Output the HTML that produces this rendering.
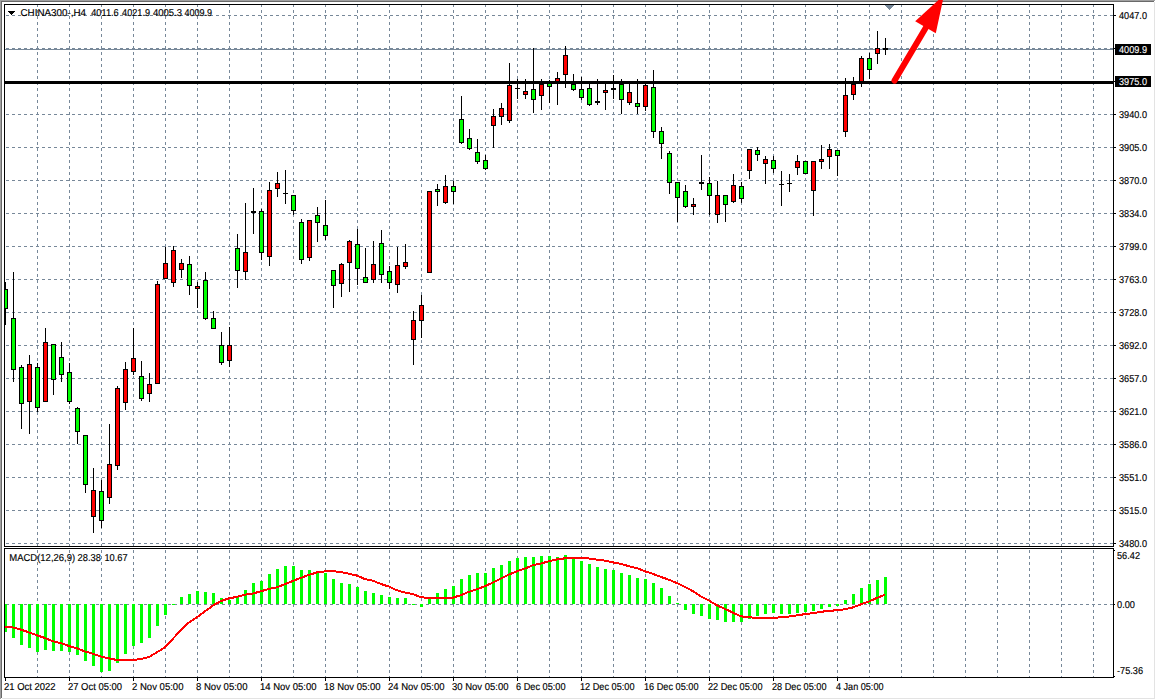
<!DOCTYPE html>
<html><head><meta charset="utf-8"><title>CHINA300-,H4</title>
<style>
html,body{margin:0;padding:0;background:#fff;width:1156px;height:700px;overflow:hidden}
svg{display:block}
text{font-family:'Liberation Sans', Arial, sans-serif;text-rendering:geometricPrecision;stroke:currentColor;stroke-width:0.15px}
</style></head>
<body>
<svg width="1156" height="700" viewBox="0 0 1156 700">
<rect width="1156" height="700" fill="#fff"/>
<g shape-rendering="crispEdges">
<path d="M6 15.5H1113M6 48.5H1113M6 81.5H1113M6 114.5H1113M6 147.5H1113M6 180.5H1113M6 213.5H1113M6 246.5H1113M6 279.5H1113M6 312.5H1113M6 345.5H1113M6 378.5H1113M6 411.5H1113M6 444.5H1113M6 477.5H1113M6 510.5H1113M6 543.5H1113M6 604.5H1113" stroke="#778899" stroke-width="1" stroke-dasharray="3 3" fill="none"/>
<path d="M37.5 4V546M37.5 550V677M69.5 4V546M69.5 550V677M101.5 4V546M101.5 550V677M133.5 4V546M133.5 550V677M165.5 4V546M165.5 550V677M197.5 4V546M197.5 550V677M229.5 4V546M229.5 550V677M261.5 4V546M261.5 550V677M293.5 4V546M293.5 550V677M325.5 4V546M325.5 550V677M357.5 4V546M357.5 550V677M389.5 4V546M389.5 550V677M421.5 4V546M421.5 550V677M453.5 4V546M453.5 550V677M485.5 4V546M485.5 550V677M517.5 4V546M517.5 550V677M549.5 4V546M549.5 550V677M581.5 4V546M581.5 550V677M613.5 4V546M613.5 550V677M645.5 4V546M645.5 550V677M677.5 4V546M677.5 550V677M709.5 4V546M709.5 550V677M741.5 4V546M741.5 550V677M773.5 4V546M773.5 550V677M805.5 4V546M805.5 550V677M837.5 4V546M837.5 550V677M869.5 4V546M869.5 550V677M901.5 4V546M901.5 550V677M933.5 4V546M933.5 550V677M965.5 4V546M965.5 550V677M997.5 4V546M997.5 550V677M1029.5 4V546M1029.5 550V677M1061.5 4V546M1061.5 550V677M1093.5 4V546M1093.5 550V677" stroke="#778899" stroke-width="1" stroke-dasharray="3 3" fill="none"/>
<rect x="4" y="547" width="1110" height="1" fill="#fff"/>
<rect x="5" y="49" width="1108" height="1" fill="#778899"/>
<g>
<rect x="5" y="282" width="1" height="43" fill="#000"/>
<rect x="3" y="289" width="5" height="20" fill="#000"/>
<rect x="4" y="290" width="3" height="18" fill="#00ff00"/>
<rect x="13" y="272" width="1" height="110" fill="#000"/>
<rect x="11" y="318" width="5" height="52" fill="#000"/>
<rect x="12" y="319" width="3" height="50" fill="#00ff00"/>
<rect x="21" y="365" width="1" height="64" fill="#000"/>
<rect x="19" y="367" width="5" height="37" fill="#000"/>
<rect x="20" y="368" width="3" height="35" fill="#00ff00"/>
<rect x="29" y="355" width="1" height="79" fill="#000"/>
<rect x="27" y="364" width="5" height="38" fill="#000"/>
<rect x="28" y="365" width="3" height="36" fill="#ff0000"/>
<rect x="37" y="363" width="1" height="49" fill="#000"/>
<rect x="35" y="367" width="5" height="41" fill="#000"/>
<rect x="36" y="368" width="3" height="39" fill="#00ff00"/>
<rect x="45" y="328" width="1" height="74" fill="#000"/>
<rect x="43" y="342" width="5" height="60" fill="#000"/>
<rect x="44" y="343" width="3" height="58" fill="#ff0000"/>
<rect x="53" y="344" width="1" height="51" fill="#000"/>
<rect x="51" y="344" width="5" height="36" fill="#000"/>
<rect x="52" y="345" width="3" height="34" fill="#00ff00"/>
<rect x="61" y="342" width="1" height="40" fill="#000"/>
<rect x="59" y="357" width="5" height="18" fill="#000"/>
<rect x="60" y="358" width="3" height="16" fill="#00ff00"/>
<rect x="69" y="363" width="1" height="41" fill="#000"/>
<rect x="67" y="372" width="5" height="30" fill="#000"/>
<rect x="68" y="373" width="3" height="28" fill="#00ff00"/>
<rect x="77" y="407" width="1" height="37" fill="#000"/>
<rect x="75" y="408" width="5" height="24" fill="#000"/>
<rect x="76" y="409" width="3" height="22" fill="#00ff00"/>
<rect x="85" y="435" width="1" height="58" fill="#000"/>
<rect x="83" y="435" width="5" height="50" fill="#000"/>
<rect x="84" y="436" width="3" height="48" fill="#00ff00"/>
<rect x="93" y="468" width="1" height="65" fill="#000"/>
<rect x="91" y="490" width="5" height="27" fill="#000"/>
<rect x="92" y="491" width="3" height="25" fill="#ff0000"/>
<rect x="101" y="480" width="1" height="48" fill="#000"/>
<rect x="99" y="491" width="5" height="30" fill="#000"/>
<rect x="100" y="492" width="3" height="28" fill="#00ff00"/>
<rect x="109" y="424" width="1" height="80" fill="#000"/>
<rect x="107" y="464" width="5" height="34" fill="#000"/>
<rect x="108" y="465" width="3" height="32" fill="#ff0000"/>
<rect x="117" y="386" width="1" height="84" fill="#000"/>
<rect x="115" y="388" width="5" height="78" fill="#000"/>
<rect x="116" y="389" width="3" height="76" fill="#ff0000"/>
<rect x="125" y="362" width="1" height="48" fill="#000"/>
<rect x="123" y="369" width="5" height="34" fill="#000"/>
<rect x="124" y="370" width="3" height="32" fill="#ff0000"/>
<rect x="133" y="328" width="1" height="47" fill="#000"/>
<rect x="131" y="358" width="5" height="14" fill="#000"/>
<rect x="132" y="359" width="3" height="12" fill="#ff0000"/>
<rect x="141" y="361" width="1" height="40" fill="#000"/>
<rect x="139" y="376" width="5" height="23" fill="#000"/>
<rect x="140" y="377" width="3" height="21" fill="#00ff00"/>
<rect x="149" y="373" width="1" height="29" fill="#000"/>
<rect x="147" y="384" width="5" height="10" fill="#000"/>
<rect x="148" y="385" width="3" height="8" fill="#ff0000"/>
<rect x="157" y="281" width="1" height="103" fill="#000"/>
<rect x="155" y="284" width="5" height="100" fill="#000"/>
<rect x="156" y="285" width="3" height="98" fill="#ff0000"/>
<rect x="165" y="247" width="1" height="32" fill="#000"/>
<rect x="163" y="263" width="5" height="16" fill="#000"/>
<rect x="164" y="264" width="3" height="14" fill="#ff0000"/>
<rect x="173" y="246" width="1" height="41" fill="#000"/>
<rect x="171" y="250" width="5" height="33" fill="#000"/>
<rect x="172" y="251" width="3" height="31" fill="#ff0000"/>
<rect x="181" y="259" width="1" height="19" fill="#000"/>
<rect x="179" y="263" width="5" height="7" fill="#000"/>
<rect x="180" y="264" width="3" height="5" fill="#ff0000"/>
<rect x="189" y="256" width="1" height="39" fill="#000"/>
<rect x="187" y="264" width="5" height="22" fill="#000"/>
<rect x="188" y="265" width="3" height="20" fill="#00ff00"/>
<rect x="197" y="282" width="1" height="26" fill="#000"/>
<rect x="195" y="286" width="5" height="3" fill="#000"/>
<rect x="196" y="287" width="3" height="1" fill="#ff0000"/>
<rect x="205" y="272" width="1" height="48" fill="#000"/>
<rect x="203" y="280" width="5" height="39" fill="#000"/>
<rect x="204" y="281" width="3" height="37" fill="#00ff00"/>
<rect x="213" y="311" width="1" height="18" fill="#000"/>
<rect x="211" y="318" width="5" height="11" fill="#000"/>
<rect x="212" y="319" width="3" height="9" fill="#00ff00"/>
<rect x="221" y="332" width="1" height="33" fill="#000"/>
<rect x="219" y="345" width="5" height="18" fill="#000"/>
<rect x="220" y="346" width="3" height="16" fill="#00ff00"/>
<rect x="229" y="327" width="1" height="40" fill="#000"/>
<rect x="227" y="345" width="5" height="16" fill="#000"/>
<rect x="228" y="346" width="3" height="14" fill="#ff0000"/>
<rect x="237" y="234" width="1" height="54" fill="#000"/>
<rect x="235" y="248" width="5" height="23" fill="#000"/>
<rect x="236" y="249" width="3" height="21" fill="#00ff00"/>
<rect x="245" y="203" width="1" height="77" fill="#000"/>
<rect x="243" y="252" width="5" height="20" fill="#000"/>
<rect x="244" y="253" width="3" height="18" fill="#ff0000"/>
<rect x="253" y="188" width="1" height="46" fill="#000"/>
<rect x="251" y="211" width="5" height="2" fill="#000"/>
<rect x="261" y="209" width="1" height="51" fill="#000"/>
<rect x="259" y="211" width="5" height="42" fill="#000"/>
<rect x="260" y="212" width="3" height="40" fill="#00ff00"/>
<rect x="269" y="182" width="1" height="84" fill="#000"/>
<rect x="267" y="190" width="5" height="67" fill="#000"/>
<rect x="268" y="191" width="3" height="65" fill="#ff0000"/>
<rect x="277" y="172" width="1" height="25" fill="#000"/>
<rect x="275" y="183" width="5" height="6" fill="#000"/>
<rect x="276" y="184" width="3" height="4" fill="#ff0000"/>
<rect x="285" y="170" width="1" height="34" fill="#000"/>
<rect x="283" y="193" width="5" height="1" fill="#000"/>
<rect x="293" y="195" width="1" height="20" fill="#000"/>
<rect x="291" y="195" width="5" height="16" fill="#000"/>
<rect x="292" y="196" width="3" height="14" fill="#00ff00"/>
<rect x="301" y="219" width="1" height="45" fill="#000"/>
<rect x="299" y="222" width="5" height="38" fill="#000"/>
<rect x="300" y="223" width="3" height="36" fill="#00ff00"/>
<rect x="309" y="220" width="1" height="41" fill="#000"/>
<rect x="307" y="220" width="5" height="38" fill="#000"/>
<rect x="308" y="221" width="3" height="36" fill="#ff0000"/>
<rect x="317" y="207" width="1" height="35" fill="#000"/>
<rect x="315" y="215" width="5" height="8" fill="#000"/>
<rect x="316" y="216" width="3" height="6" fill="#00ff00"/>
<rect x="325" y="200" width="1" height="40" fill="#000"/>
<rect x="323" y="225" width="5" height="11" fill="#000"/>
<rect x="324" y="226" width="3" height="9" fill="#00ff00"/>
<rect x="333" y="270" width="1" height="38" fill="#000"/>
<rect x="331" y="270" width="5" height="16" fill="#000"/>
<rect x="332" y="271" width="3" height="14" fill="#00ff00"/>
<rect x="341" y="263" width="1" height="34" fill="#000"/>
<rect x="339" y="264" width="5" height="20" fill="#000"/>
<rect x="340" y="265" width="3" height="18" fill="#ff0000"/>
<rect x="349" y="240" width="1" height="52" fill="#000"/>
<rect x="347" y="241" width="5" height="22" fill="#000"/>
<rect x="348" y="242" width="3" height="20" fill="#ff0000"/>
<rect x="357" y="229" width="1" height="56" fill="#000"/>
<rect x="355" y="244" width="5" height="25" fill="#000"/>
<rect x="356" y="245" width="3" height="23" fill="#00ff00"/>
<rect x="365" y="248" width="1" height="35" fill="#000"/>
<rect x="363" y="277" width="5" height="6" fill="#000"/>
<rect x="364" y="278" width="3" height="4" fill="#00ff00"/>
<rect x="373" y="241" width="1" height="42" fill="#000"/>
<rect x="371" y="264" width="5" height="16" fill="#000"/>
<rect x="372" y="265" width="3" height="14" fill="#ff0000"/>
<rect x="381" y="230" width="1" height="53" fill="#000"/>
<rect x="379" y="243" width="5" height="32" fill="#000"/>
<rect x="380" y="244" width="3" height="30" fill="#00ff00"/>
<rect x="389" y="266" width="1" height="23" fill="#000"/>
<rect x="387" y="271" width="5" height="12" fill="#000"/>
<rect x="388" y="272" width="3" height="10" fill="#00ff00"/>
<rect x="397" y="247" width="1" height="46" fill="#000"/>
<rect x="395" y="265" width="5" height="20" fill="#000"/>
<rect x="396" y="266" width="3" height="18" fill="#ff0000"/>
<rect x="405" y="244" width="1" height="25" fill="#000"/>
<rect x="403" y="262" width="5" height="5" fill="#000"/>
<rect x="404" y="263" width="3" height="3" fill="#ff0000"/>
<rect x="413" y="311" width="1" height="54" fill="#000"/>
<rect x="411" y="320" width="5" height="20" fill="#000"/>
<rect x="412" y="321" width="3" height="18" fill="#ff0000"/>
<rect x="421" y="295" width="1" height="43" fill="#000"/>
<rect x="419" y="305" width="5" height="16" fill="#000"/>
<rect x="420" y="306" width="3" height="14" fill="#ff0000"/>
<rect x="429" y="191" width="1" height="82" fill="#000"/>
<rect x="427" y="191" width="5" height="82" fill="#000"/>
<rect x="428" y="192" width="3" height="80" fill="#ff0000"/>
<rect x="437" y="184" width="1" height="22" fill="#000"/>
<rect x="435" y="189" width="5" height="3" fill="#000"/>
<rect x="436" y="190" width="3" height="1" fill="#00ff00"/>
<rect x="445" y="175" width="1" height="29" fill="#000"/>
<rect x="443" y="186" width="5" height="17" fill="#000"/>
<rect x="444" y="187" width="3" height="15" fill="#ff0000"/>
<rect x="453" y="181" width="1" height="23" fill="#000"/>
<rect x="451" y="186" width="5" height="6" fill="#000"/>
<rect x="452" y="187" width="3" height="4" fill="#00ff00"/>
<rect x="461" y="96" width="1" height="48" fill="#000"/>
<rect x="459" y="119" width="5" height="24" fill="#000"/>
<rect x="460" y="120" width="3" height="22" fill="#00ff00"/>
<rect x="469" y="129" width="1" height="21" fill="#000"/>
<rect x="467" y="138" width="5" height="11" fill="#000"/>
<rect x="468" y="139" width="3" height="9" fill="#00ff00"/>
<rect x="477" y="139" width="1" height="25" fill="#000"/>
<rect x="475" y="152" width="5" height="10" fill="#000"/>
<rect x="476" y="153" width="3" height="8" fill="#00ff00"/>
<rect x="485" y="155" width="1" height="15" fill="#000"/>
<rect x="483" y="160" width="5" height="9" fill="#000"/>
<rect x="484" y="161" width="3" height="7" fill="#00ff00"/>
<rect x="493" y="109" width="1" height="39" fill="#000"/>
<rect x="491" y="116" width="5" height="10" fill="#000"/>
<rect x="492" y="117" width="3" height="8" fill="#ff0000"/>
<rect x="501" y="103" width="1" height="22" fill="#000"/>
<rect x="499" y="108" width="5" height="9" fill="#000"/>
<rect x="500" y="109" width="3" height="7" fill="#ff0000"/>
<rect x="509" y="63" width="1" height="60" fill="#000"/>
<rect x="507" y="85" width="5" height="36" fill="#000"/>
<rect x="508" y="86" width="3" height="34" fill="#ff0000"/>
<rect x="517" y="79" width="1" height="20" fill="#000"/>
<rect x="515" y="88" width="5" height="1" fill="#000"/>
<rect x="525" y="79" width="1" height="20" fill="#000"/>
<rect x="523" y="91" width="5" height="4" fill="#000"/>
<rect x="524" y="92" width="3" height="2" fill="#ff0000"/>
<rect x="533" y="48" width="1" height="65" fill="#000"/>
<rect x="531" y="89" width="5" height="11" fill="#000"/>
<rect x="532" y="90" width="3" height="9" fill="#00ff00"/>
<rect x="541" y="79" width="1" height="31" fill="#000"/>
<rect x="539" y="84" width="5" height="12" fill="#000"/>
<rect x="540" y="85" width="3" height="10" fill="#ff0000"/>
<rect x="549" y="80" width="1" height="23" fill="#000"/>
<rect x="547" y="82" width="5" height="5" fill="#000"/>
<rect x="548" y="83" width="3" height="3" fill="#00ff00"/>
<rect x="557" y="72" width="1" height="33" fill="#000"/>
<rect x="555" y="78" width="5" height="6" fill="#000"/>
<rect x="556" y="79" width="3" height="4" fill="#ff0000"/>
<rect x="565" y="46" width="1" height="42" fill="#000"/>
<rect x="563" y="55" width="5" height="20" fill="#000"/>
<rect x="564" y="56" width="3" height="18" fill="#ff0000"/>
<rect x="573" y="74" width="1" height="17" fill="#000"/>
<rect x="571" y="84" width="5" height="6" fill="#000"/>
<rect x="572" y="85" width="3" height="4" fill="#00ff00"/>
<rect x="581" y="77" width="1" height="23" fill="#000"/>
<rect x="579" y="89" width="5" height="9" fill="#000"/>
<rect x="580" y="90" width="3" height="7" fill="#00ff00"/>
<rect x="589" y="84" width="1" height="22" fill="#000"/>
<rect x="587" y="88" width="5" height="17" fill="#000"/>
<rect x="588" y="89" width="3" height="15" fill="#00ff00"/>
<rect x="597" y="79" width="1" height="26" fill="#000"/>
<rect x="595" y="101" width="5" height="2" fill="#000"/>
<rect x="605" y="84" width="1" height="26" fill="#000"/>
<rect x="603" y="90" width="5" height="3" fill="#000"/>
<rect x="604" y="91" width="3" height="1" fill="#ff0000"/>
<rect x="613" y="75" width="1" height="24" fill="#000"/>
<rect x="611" y="88" width="5" height="2" fill="#000"/>
<rect x="621" y="79" width="1" height="35" fill="#000"/>
<rect x="619" y="84" width="5" height="16" fill="#000"/>
<rect x="620" y="85" width="3" height="14" fill="#00ff00"/>
<rect x="629" y="84" width="1" height="21" fill="#000"/>
<rect x="627" y="92" width="5" height="11" fill="#000"/>
<rect x="628" y="93" width="3" height="9" fill="#ff0000"/>
<rect x="637" y="79" width="1" height="35" fill="#000"/>
<rect x="635" y="103" width="5" height="4" fill="#000"/>
<rect x="636" y="104" width="3" height="2" fill="#00ff00"/>
<rect x="645" y="84" width="1" height="27" fill="#000"/>
<rect x="643" y="85" width="5" height="22" fill="#000"/>
<rect x="644" y="86" width="3" height="20" fill="#ff0000"/>
<rect x="653" y="70" width="1" height="68" fill="#000"/>
<rect x="651" y="87" width="5" height="45" fill="#000"/>
<rect x="652" y="88" width="3" height="43" fill="#00ff00"/>
<rect x="661" y="127" width="1" height="32" fill="#000"/>
<rect x="659" y="131" width="5" height="13" fill="#000"/>
<rect x="660" y="132" width="3" height="11" fill="#00ff00"/>
<rect x="669" y="151" width="1" height="43" fill="#000"/>
<rect x="667" y="153" width="5" height="30" fill="#000"/>
<rect x="668" y="154" width="3" height="28" fill="#00ff00"/>
<rect x="677" y="182" width="1" height="40" fill="#000"/>
<rect x="675" y="182" width="5" height="16" fill="#000"/>
<rect x="676" y="183" width="3" height="14" fill="#00ff00"/>
<rect x="685" y="185" width="1" height="23" fill="#000"/>
<rect x="683" y="191" width="5" height="16" fill="#000"/>
<rect x="684" y="192" width="3" height="14" fill="#00ff00"/>
<rect x="693" y="198" width="1" height="17" fill="#000"/>
<rect x="691" y="204" width="5" height="3" fill="#000"/>
<rect x="692" y="205" width="3" height="1" fill="#ff0000"/>
<rect x="701" y="155" width="1" height="35" fill="#000"/>
<rect x="699" y="182" width="5" height="2" fill="#000"/>
<rect x="709" y="177" width="1" height="38" fill="#000"/>
<rect x="707" y="183" width="5" height="13" fill="#000"/>
<rect x="708" y="184" width="3" height="11" fill="#00ff00"/>
<rect x="717" y="181" width="1" height="42" fill="#000"/>
<rect x="715" y="195" width="5" height="20" fill="#000"/>
<rect x="716" y="196" width="3" height="18" fill="#ff0000"/>
<rect x="725" y="195" width="1" height="27" fill="#000"/>
<rect x="723" y="195" width="5" height="10" fill="#000"/>
<rect x="724" y="196" width="3" height="8" fill="#00ff00"/>
<rect x="733" y="174" width="1" height="29" fill="#000"/>
<rect x="731" y="185" width="5" height="17" fill="#000"/>
<rect x="732" y="186" width="3" height="15" fill="#ff0000"/>
<rect x="741" y="182" width="1" height="21" fill="#000"/>
<rect x="739" y="186" width="5" height="13" fill="#000"/>
<rect x="740" y="187" width="3" height="11" fill="#00ff00"/>
<rect x="749" y="149" width="1" height="30" fill="#000"/>
<rect x="747" y="149" width="5" height="22" fill="#000"/>
<rect x="748" y="150" width="3" height="20" fill="#ff0000"/>
<rect x="757" y="147" width="1" height="14" fill="#000"/>
<rect x="755" y="150" width="5" height="5" fill="#000"/>
<rect x="756" y="151" width="3" height="3" fill="#00ff00"/>
<rect x="765" y="156" width="1" height="28" fill="#000"/>
<rect x="763" y="159" width="5" height="5" fill="#000"/>
<rect x="764" y="160" width="3" height="3" fill="#ff0000"/>
<rect x="773" y="156" width="1" height="17" fill="#000"/>
<rect x="771" y="160" width="5" height="9" fill="#000"/>
<rect x="772" y="161" width="3" height="7" fill="#00ff00"/>
<rect x="781" y="171" width="1" height="35" fill="#000"/>
<rect x="779" y="184" width="5" height="1" fill="#000"/>
<rect x="789" y="174" width="1" height="18" fill="#000"/>
<rect x="787" y="183" width="5" height="1" fill="#000"/>
<rect x="797" y="155" width="1" height="20" fill="#000"/>
<rect x="795" y="161" width="5" height="7" fill="#000"/>
<rect x="796" y="162" width="3" height="5" fill="#ff0000"/>
<rect x="805" y="161" width="1" height="13" fill="#000"/>
<rect x="803" y="161" width="5" height="13" fill="#000"/>
<rect x="804" y="162" width="3" height="11" fill="#00ff00"/>
<rect x="813" y="161" width="1" height="55" fill="#000"/>
<rect x="811" y="161" width="5" height="30" fill="#000"/>
<rect x="812" y="162" width="3" height="28" fill="#ff0000"/>
<rect x="821" y="145" width="1" height="24" fill="#000"/>
<rect x="819" y="159" width="5" height="3" fill="#000"/>
<rect x="820" y="160" width="3" height="1" fill="#ff0000"/>
<rect x="829" y="144" width="1" height="25" fill="#000"/>
<rect x="827" y="149" width="5" height="8" fill="#000"/>
<rect x="828" y="150" width="3" height="6" fill="#ff0000"/>
<rect x="837" y="150" width="1" height="26" fill="#000"/>
<rect x="835" y="150" width="5" height="6" fill="#000"/>
<rect x="836" y="151" width="3" height="4" fill="#00ff00"/>
<rect x="845" y="78" width="1" height="59" fill="#000"/>
<rect x="843" y="95" width="5" height="37" fill="#000"/>
<rect x="844" y="96" width="3" height="35" fill="#ff0000"/>
<rect x="853" y="77" width="1" height="23" fill="#000"/>
<rect x="851" y="84" width="5" height="11" fill="#000"/>
<rect x="852" y="85" width="3" height="9" fill="#ff0000"/>
<rect x="861" y="56" width="1" height="31" fill="#000"/>
<rect x="859" y="58" width="5" height="25" fill="#000"/>
<rect x="860" y="59" width="3" height="23" fill="#ff0000"/>
<rect x="869" y="53" width="1" height="26" fill="#000"/>
<rect x="867" y="58" width="5" height="12" fill="#000"/>
<rect x="868" y="59" width="3" height="10" fill="#00ff00"/>
<rect x="877" y="31" width="1" height="33" fill="#000"/>
<rect x="875" y="48" width="5" height="6" fill="#000"/>
<rect x="876" y="49" width="3" height="4" fill="#ff0000"/>
<rect x="885" y="38" width="1" height="17" fill="#000"/>
<rect x="883" y="48" width="5" height="2" fill="#000"/>
</g>
<rect x="5" y="81" width="1108" height="3" fill="#000"/>
<path d="M4 604h3V632h-3zM12 604h3V638h-3zM20 604h3V645h-3zM28 604h3V648h-3zM36 604h3V652h-3zM44 604h3V650h-3zM52 604h3V651h-3zM60 604h3V651h-3zM68 604h3V652h-3zM76 604h3V655h-3zM84 604h3V661h-3zM92 604h3V666h-3zM100 604h3V672h-3zM108 604h3V671h-3zM116 604h3V663h-3zM124 604h3V654h-3zM132 604h3V646h-3zM140 604h3V643h-3zM148 604h3V638h-3zM156 604h3V626h-3zM164 604h3V615h-3zM172 604h3V605h-3zM180 597h3V604h-3zM188 594h3V604h-3zM196 591h3V604h-3zM204 592h3V604h-3zM212 593h3V604h-3zM220 598h3V604h-3zM228 600h3V604h-3zM236 596h3V604h-3zM244 590h3V604h-3zM252 583h3V604h-3zM260 581h3V604h-3zM268 574h3V604h-3zM276 569h3V604h-3zM284 566h3V604h-3zM292 566h3V604h-3zM300 570h3V604h-3zM308 570h3V604h-3zM316 571h3V604h-3zM324 573h3V604h-3zM332 579h3V604h-3zM340 583h3V604h-3zM348 584h3V604h-3zM356 587h3V604h-3zM364 591h3V604h-3zM372 593h3V604h-3zM380 595h3V604h-3zM388 597h3V604h-3zM396 598h3V604h-3zM404 598h3V604h-3zM412 604h3V605h-3zM420 604h3V607h-3zM428 599h3V604h-3zM436 593h3V604h-3zM444 589h3V604h-3zM452 586h3V604h-3zM460 579h3V604h-3zM468 575h3V604h-3zM476 573h3V604h-3zM484 573h3V604h-3zM492 568h3V604h-3zM500 565h3V604h-3zM508 561h3V604h-3zM516 558h3V604h-3zM524 557h3V604h-3zM532 557h3V604h-3zM540 556h3V604h-3zM548 556h3V604h-3zM556 557h3V604h-3zM564 555h3V604h-3zM572 558h3V604h-3zM580 561h3V604h-3zM588 564h3V604h-3zM596 567h3V604h-3zM604 569h3V604h-3zM612 570h3V604h-3zM620 573h3V604h-3zM628 575h3V604h-3zM636 578h3V604h-3zM644 579h3V604h-3zM652 583h3V604h-3zM660 588h3V604h-3zM668 596h3V604h-3zM676 603h3V604h-3zM684 604h3V610h-3zM692 604h3V614h-3zM700 604h3V616h-3zM708 604h3V619h-3zM716 604h3V620h-3zM724 604h3V622h-3zM732 604h3V622h-3zM740 604h3V622h-3zM748 604h3V619h-3zM756 604h3V616h-3zM764 604h3V614h-3zM772 604h3V613h-3zM780 604h3V614h-3zM788 604h3V614h-3zM796 604h3V613h-3zM804 604h3V612h-3zM812 604h3V611h-3zM820 604h3V609h-3zM828 604h3V607h-3zM836 604h3V606h-3zM844 600h3V604h-3zM852 594h3V604h-3zM860 588h3V604h-3zM868 584h3V604h-3zM876 580h3V604h-3zM884 577h3V604h-3z" fill="#00ff00"/>
<polyline points="5,626.9 13,627.5 21,629.6 29,632.4 37,635.3 45,638 53,641.3 61,643.1 69,646.1 77,648.3 85,651.4 93,653.7 101,656.5 109,658.4 117,660 125,660 133,660 141,659 149,657 157,652.2 165,647.4 173,638.6 181,630.1 189,622.4 197,617.2 205,611.3 213,605.5 221,601 229,598.4 237,596.8 245,594.7 253,593.6 261,591.2 269,589 277,587.3 285,584.2 293,580.8 301,577.8 309,574.9 317,572.4 325,571.4 333,571.1 341,572.1 349,573.7 357,575.6 365,579.1 373,580.8 381,584 389,586.6 397,590.3 405,592.5 413,594.2 421,597.3 429,597.9 437,597.9 445,597.9 453,597.7 461,595.1 469,591.8 477,589.2 485,586.2 493,582.5 501,578.6 509,574.6 517,571.3 525,568.5 533,565.2 541,563.5 549,561.3 557,559.4 565,558.3 573,557.5 581,557.8 589,558.5 597,559.6 605,560.7 613,562.4 621,563.9 629,566.3 637,568.2 645,571.3 653,573.9 661,576.9 669,579.8 677,583.1 685,586.9 693,591.2 701,596.4 709,600.6 717,605.3 725,608.9 733,612.8 741,616.3 749,617.4 757,617.7 765,617.7 773,617.7 781,617.4 789,616.5 797,615.4 805,614.1 813,613.1 821,611.8 829,610.9 837,610.2 845,609.2 853,607.4 861,604.3 869,601.5 877,597.8 885,594.9" fill="none" stroke="#ff0000" stroke-width="2" shape-rendering="crispEdges"/>
<rect x="0" y="0" width="4" height="700" fill="#fff"/>
<rect x="4" y="4" width="1110" height="1" fill="#000"/>
<rect x="4" y="546" width="1110" height="1" fill="#000"/>
<rect x="4" y="4" width="1" height="543" fill="#000"/>
<rect x="1113" y="4" width="1" height="543" fill="#000"/>
<rect x="4" y="548" width="1110" height="1" fill="#000"/>
<rect x="4" y="677" width="1110" height="1" fill="#000"/>
<rect x="4" y="548" width="1" height="130" fill="#000"/>
<rect x="1113" y="548" width="1" height="130" fill="#000"/>
<path d="M1114 15h2v1h-2zM1114 48h2v1h-2zM1114 81h2v1h-2zM1114 114h2v1h-2zM1114 147h2v1h-2zM1114 180h2v1h-2zM1114 213h2v1h-2zM1114 246h2v1h-2zM1114 279h2v1h-2zM1114 312h2v1h-2zM1114 345h2v1h-2zM1114 378h2v1h-2zM1114 411h2v1h-2zM1114 444h2v1h-2zM1114 477h2v1h-2zM1114 510h2v1h-2zM1114 543h2v1h-2zM1114 604h1v1h-1zM1114 550h1v1h-1zM1114 676h1v1h-1zM5 678h1v3h-1zM69 678h1v3h-1zM133 678h1v3h-1zM197 678h1v3h-1zM261 678h1v3h-1zM325 678h1v3h-1zM389 678h1v3h-1zM453 678h1v3h-1zM517 678h1v3h-1zM581 678h1v3h-1zM645 678h1v3h-1zM709 678h1v3h-1zM773 678h1v3h-1zM837 678h1v3h-1z" fill="#000"/>
<rect x="1115" y="44" width="36" height="11" fill="#000"/>
<rect x="1115" y="76" width="36" height="11" fill="#000"/>
<rect x="0" y="0" width="1155" height="1" fill="#a0a0a0"/>
<rect x="0" y="0" width="1" height="699" fill="#a0a0a0"/>
<rect x="1" y="1" width="1153" height="1" fill="#696969"/>
<rect x="1" y="1" width="1" height="697" fill="#696969"/>
<rect x="1154" y="2" width="1" height="697" fill="#e3e3e3"/>
<rect x="2" y="698" width="1153" height="1" fill="#e3e3e3"/>
<path d="M8 11h7v1h-1v1h-1v1h-1v1h-1v-1h-1v-1h-1v-1h-1z" fill="#000"/>
<path d="M885 5h9v1h-1v1h-1v1h-1v1h-1v1h-1v-1h-1v-1h-1v-1h-1v-1h-1z" fill="#778899"/>
</g>
<g>
<text x="20.5" y="16" font-size="10.0" textLength="65.5" lengthAdjust="spacingAndGlyphs">CHINA300-,H4</text>
<text x="91.2" y="16" font-size="10.0" textLength="27.5" lengthAdjust="spacingAndGlyphs">4011.6</text>
<text x="122.1" y="16" font-size="10.0" textLength="27.900000000000006" lengthAdjust="spacingAndGlyphs">4021.9</text>
<text x="153" y="16" font-size="10.0" textLength="29" lengthAdjust="spacingAndGlyphs">4005.3</text>
<text x="184.5" y="16" font-size="10.0" textLength="27.599999999999994" lengthAdjust="spacingAndGlyphs">4009.9</text>
<text x="1119" y="19" font-size="10.0" textLength="28" lengthAdjust="spacingAndGlyphs">4047.0</text>
<text x="1119" y="118" font-size="10.0" textLength="28" lengthAdjust="spacingAndGlyphs">3940.0</text>
<text x="1119" y="151" font-size="10.0" textLength="28" lengthAdjust="spacingAndGlyphs">3905.0</text>
<text x="1119" y="184" font-size="10.0" textLength="28" lengthAdjust="spacingAndGlyphs">3870.0</text>
<text x="1119" y="217" font-size="10.0" textLength="28" lengthAdjust="spacingAndGlyphs">3834.0</text>
<text x="1119" y="250" font-size="10.0" textLength="28" lengthAdjust="spacingAndGlyphs">3799.0</text>
<text x="1119" y="283" font-size="10.0" textLength="28" lengthAdjust="spacingAndGlyphs">3763.0</text>
<text x="1119" y="316" font-size="10.0" textLength="28" lengthAdjust="spacingAndGlyphs">3728.0</text>
<text x="1119" y="349" font-size="10.0" textLength="28" lengthAdjust="spacingAndGlyphs">3692.0</text>
<text x="1119" y="382" font-size="10.0" textLength="28" lengthAdjust="spacingAndGlyphs">3657.0</text>
<text x="1119" y="415" font-size="10.0" textLength="28" lengthAdjust="spacingAndGlyphs">3621.0</text>
<text x="1119" y="448" font-size="10.0" textLength="28" lengthAdjust="spacingAndGlyphs">3586.0</text>
<text x="1119" y="481" font-size="10.0" textLength="28" lengthAdjust="spacingAndGlyphs">3551.0</text>
<text x="1119" y="514" font-size="10.0" textLength="28" lengthAdjust="spacingAndGlyphs">3515.0</text>
<text x="1119" y="547" font-size="10.0" textLength="28" lengthAdjust="spacingAndGlyphs">3480.0</text>
<text x="1119" y="53" font-size="10.0" textLength="28" lengthAdjust="spacingAndGlyphs" fill="#fff" style="stroke:#fff;stroke-width:0.1px">4009.9</text>
<text x="1119" y="85" font-size="10.0" textLength="28" lengthAdjust="spacingAndGlyphs" fill="#fff" style="stroke:#fff;stroke-width:0.1px">3975.0</text>
<text x="9.3" y="561" font-size="10.0" textLength="65.8" lengthAdjust="spacingAndGlyphs">MACD(12,26,9)</text>
<text x="77.6" y="561" font-size="10.0" textLength="23.4" lengthAdjust="spacingAndGlyphs">28.38</text>
<text x="104.4" y="561" font-size="10.0" textLength="23.2" lengthAdjust="spacingAndGlyphs">10.67</text>
<text x="1117" y="559" font-size="10.0" textLength="23" lengthAdjust="spacingAndGlyphs">56.42</text>
<text x="1117" y="608" font-size="10.0" textLength="18" lengthAdjust="spacingAndGlyphs">0.00</text>
<text x="1117" y="674" font-size="10.0" textLength="26" lengthAdjust="spacingAndGlyphs">-75.36</text>
<text x="4" y="690" font-size="10.0" textLength="51.5" lengthAdjust="spacingAndGlyphs">21 Oct 2022</text>
<text x="68" y="690" font-size="10.0" textLength="54" lengthAdjust="spacingAndGlyphs">27 Oct 05:00</text>
<text x="132" y="690" font-size="10.0" textLength="51.5" lengthAdjust="spacingAndGlyphs">2 Nov 05:00</text>
<text x="196" y="690" font-size="10.0" textLength="51.5" lengthAdjust="spacingAndGlyphs">8 Nov 05:00</text>
<text x="260" y="690" font-size="10.0" textLength="56.5" lengthAdjust="spacingAndGlyphs">14 Nov 05:00</text>
<text x="324" y="690" font-size="10.0" textLength="56.5" lengthAdjust="spacingAndGlyphs">18 Nov 05:00</text>
<text x="388" y="690" font-size="10.0" textLength="56.5" lengthAdjust="spacingAndGlyphs">24 Nov 05:00</text>
<text x="452" y="690" font-size="10.0" textLength="56.5" lengthAdjust="spacingAndGlyphs">30 Nov 05:00</text>
<text x="516" y="690" font-size="10.0" textLength="49.5" lengthAdjust="spacingAndGlyphs">6 Dec 05:00</text>
<text x="580" y="690" font-size="10.0" textLength="54.5" lengthAdjust="spacingAndGlyphs">12 Dec 05:00</text>
<text x="644" y="690" font-size="10.0" textLength="54.5" lengthAdjust="spacingAndGlyphs">16 Dec 05:00</text>
<text x="708" y="690" font-size="10.0" textLength="54.5" lengthAdjust="spacingAndGlyphs">22 Dec 05:00</text>
<text x="772" y="690" font-size="10.0" textLength="54.5" lengthAdjust="spacingAndGlyphs">28 Dec 05:00</text>
<text x="836" y="690" font-size="10.0" textLength="47.5" lengthAdjust="spacingAndGlyphs">4 Jan 05:00</text>
</g>
<g fill="#ff0000" stroke="none"><line x1="894.5" y1="80.6" x2="928" y2="24" stroke="#ff0000" stroke-width="6" stroke-linecap="round"/><polygon points="915.2,21.2 935.8,33.2 944,-5"/></g>
</svg>
</body></html>
